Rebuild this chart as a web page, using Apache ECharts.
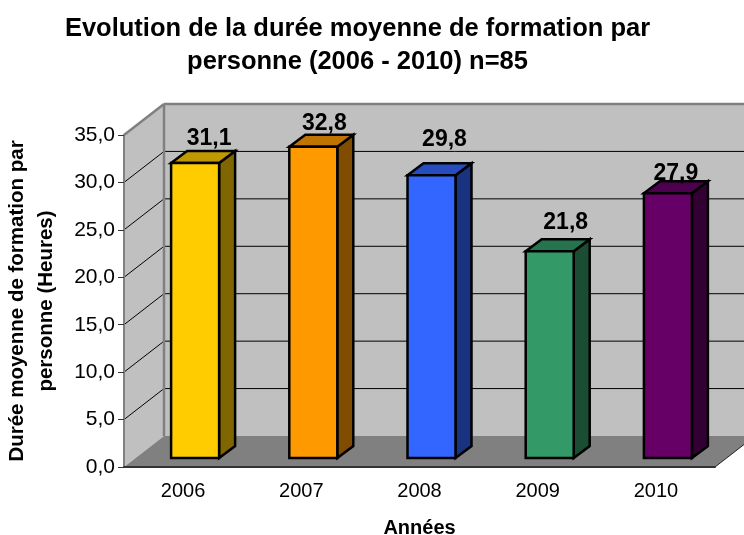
<!DOCTYPE html>
<html>
<head>
<meta charset="utf-8">
<style>html,body{margin:0;padding:0;background:#fff}#main{width:744px;height:535px}</style>
<script src="https://cdn.jsdelivr.net/npm/echarts@6/dist/echarts.min.js"></script>
</head>
<body>
<div id="main"></div>
<script>
const years = ['2006', '2007', '2008', '2009', '2010'];
const hours = [31.1, 32.8, 29.8, 21.8, 27.9];
const yTicks = [0, 5, 10, 15, 20, 25, 30, 35];

// faces: front, top, side
const barColors = [
  ['#ffcc00', '#bf9900', '#806600'],
  ['#ff9900', '#bf7300', '#804d00'],
  ['#3366ff', '#264cbf', '#1a3380'],
  ['#339966', '#267350', '#1a4d33'],
  ['#660066', '#4d004d', '#330033']
];
// excel left the labels at slightly different spots
const labelNudge = [[14, -24], [11, -23], [13, -36], [16, -29], [8, -20]];

const FONT = '"Liberation Sans", Arial, sans-serif';
const DX = 40, DY = -31;        // depth of the 3d box
const BAR_W = 48, BAR_DX = 16, BAR_DY = -12;
const OFF_X = 12, OFF_Y = -9;   // bar position inside the depth

function poly(points, fill, stroke, lineWidth) {
  return {
    type: 'polygon',
    shape: {points: points},
    style: {fill: fill, stroke: stroke || null, lineWidth: lineWidth || 0, lineJoin: 'miter'}
  };
}
function line(x1, y1, x2, y2, color, w) {
  return {
    type: 'line',
    shape: {x1: x1, y1: y1, x2: x2, y2: y2},
    style: {stroke: color, lineWidth: w}
  };
}

function renderBox(params, api) {
  const left = params.coordSys.x, right = left + params.coordSys.width;
  const kids = [];
  const y0 = api.coord([0, 0])[1], yMax = api.coord([0, 35])[1];
  // back wall, floor, left wall
  kids.push(poly([[left + DX, yMax + DY], [right + DX, yMax + DY], [right + DX, y0 + DY], [left + DX, y0 + DY]], '#c0c0c0'));
  kids.push(poly([[left, yMax], [left + DX, yMax + DY], [left + DX, y0 + DY], [left, y0]], '#c0c0c0'));
  kids.push(poly([[left, y0], [left + DX, y0 + DY], [right + DX, y0 + DY], [right, y0]], '#808080'));
  yTicks.forEach(function (v) {
    if (v === 0 || v === 35) return;
    const y = api.coord([0, v])[1];
    kids.push(line(left, y, left + DX, y + DY, '#000', 1));
    kids.push(line(left + DX, y + DY, right + DX, y + DY, '#000', 1));
  });
  kids.push(line(left + DX, yMax + DY, left + DX, y0 + DY, '#808080', 2.5));
  kids.push(line(left + DX, yMax + DY, right + DX, yMax + DY, '#808080', 2.5));
  kids.push(line(left, yMax, left + DX, yMax + DY, '#808080', 2.5));
  kids.push(line(right, y0, right + DX, y0 + DY, '#222', 1));
  return {type: 'group', children: kids};
}

function renderBar(params, api) {
  const i = api.value(0);
  const top = api.coord([i, api.value(1)]);
  const base = api.coord([i, 0]);
  const x1 = top[0] + OFF_X - BAR_W / 2, x2 = x1 + BAR_W;
  const yt = top[1] + OFF_Y, yb = base[1] + OFF_Y;
  const c = barColors[i];
  const stroke = '#000', w = 2.5;
  return {
    type: 'group',
    children: [
      poly([[x2, yt], [x2 + BAR_DX, yt + BAR_DY], [x2 + BAR_DX, yb + BAR_DY], [x2, yb]], c[2], stroke, w),
      poly([[x1, yt], [x1 + BAR_DX, yt + BAR_DY], [x2 + BAR_DX, yt + BAR_DY], [x2, yt]], c[1], stroke, w),
      poly([[x1, yt], [x2, yt], [x2, yb], [x1, yb]], c[0], stroke, w),
      {
        type: 'text',
        style: {
          x: top[0] + OFF_X + labelNudge[i][0],
          y: yt + labelNudge[i][1],
          text: api.value(1).toFixed(1).replace('.', ','),
          font: 'bold 23px ' + FONT,
          fill: '#000',
          align: 'center',
          verticalAlign: 'middle'
        }
      }
    ]
  };
}

const myChart = echarts.init(document.getElementById('main'));
myChart.setOption({
  animation: false,
  backgroundColor: '#fff',
  title: {
    text: 'Evolution de la durée moyenne de formation par\npersonne (2006 - 2010) n=85',
    left: 352.5,
    top: 7,
    textAlign: 'center',
    textStyle: {fontFamily: FONT, fontSize: 25.5, fontWeight: 'bold', color: '#000', lineHeight: 33}
  },
  grid: {left: 124, top: 135, width: 591, height: 332, outerBoundsMode: 'none'},
  xAxis: {
    type: 'category',
    data: years,
    z: 2,
    name: 'Années',
    nameLocation: 'middle',
    nameGap: 51,
    nameTextStyle: {fontFamily: FONT, fontSize: 20, fontWeight: 'bold', color: '#000'},
    axisLine: {lineStyle: {color: '#333', width: 2}},
    axisTick: {length: 6, lineStyle: {color: '#333', width: 1}},
    axisLabel: {fontFamily: FONT, fontSize: 20, color: '#000', margin: 14}
  },
  yAxis: {
    type: 'value',
    min: 0,
    max: 35,
    interval: 5,
    z: 2,
    name: 'Durée moyenne de formation par\npersonne (Heures)',
    nameLocation: 'middle',
    nameGap: 63,
    nameRotate: 90,
    nameTextStyle: {fontFamily: FONT, fontSize: 20.5, fontWeight: 'bold', color: '#000', lineHeight: 29},
    axisLine: {show: true, lineStyle: {color: '#808080', width: 2}},
    axisTick: {show: true, length: 6, lineStyle: {color: '#333', width: 1}},
    splitLine: {show: false},
    axisLabel: {
      fontFamily: FONT, fontSize: 21, color: '#000', margin: 9, padding: [2, 0, 0, 0],
      formatter: function (v) { return v.toFixed(1).replace('.', ','); }
    }
  },
  series: [
    {
      type: 'custom',
      z: 1,
      silent: true,
      renderItem: renderBox,
      data: [[0, 0]]
    },
    {
      type: 'custom',
      z: 3,
      renderItem: renderBar,
      encode: {x: 0, y: 1},
      data: hours.map(function (v, i) { return [i, v]; })
    }
  ]
});
</script>
</body>
</html>
